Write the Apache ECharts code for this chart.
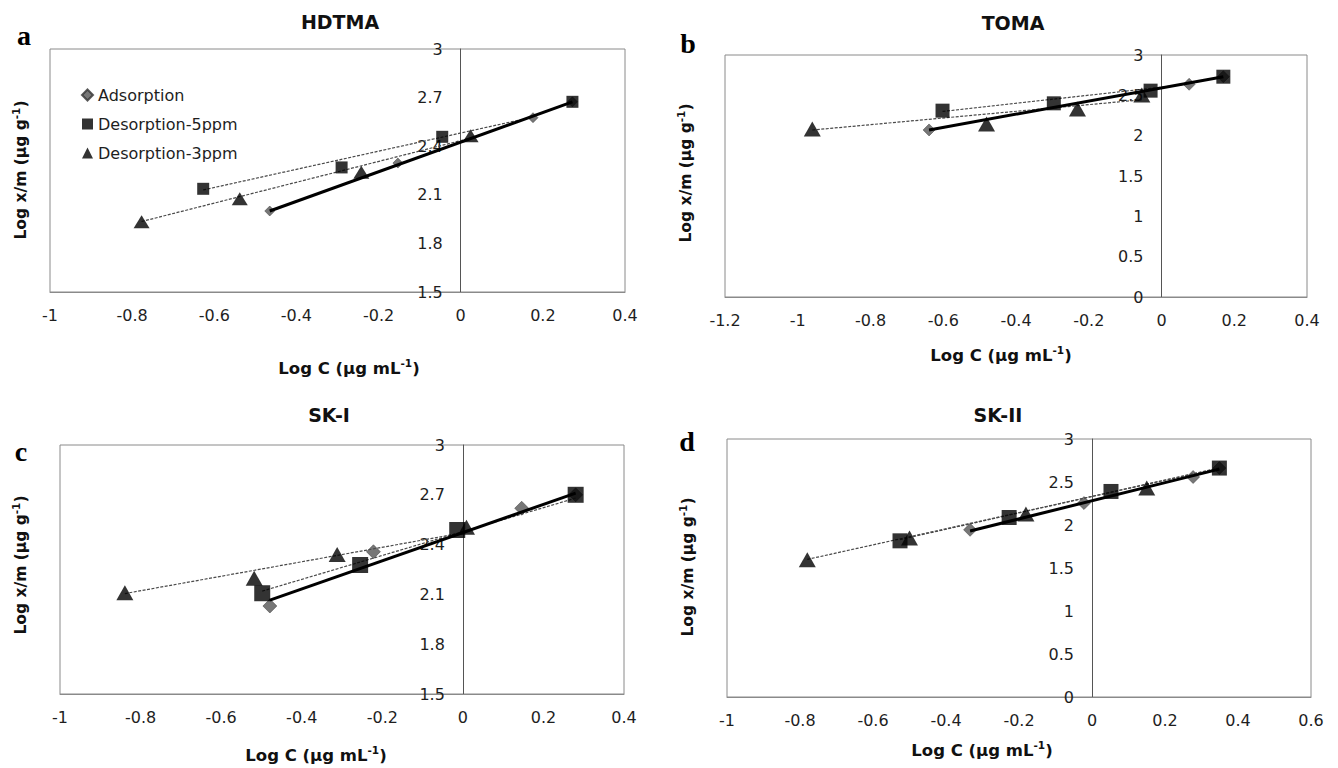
<!DOCTYPE html>
<html>
<head>
<meta charset="utf-8">
<title>Adsorption / desorption isotherms</title>
<script src="https://cdn.jsdelivr.net/npm/echarts@6/dist/echarts.min.js"></script>
<style>
  html, body { margin: 0; padding: 0; background: #fff; }
  #chart { width: 1338px; height: 768px; }
</style>
</head>
<body>
<div id="chart"></div>
<script>
// legend / series names
const seriesNames = ['Adsorption', 'Desorption-5ppm', 'Desorption-3ppm'];
const panelTitles = ['HDTMA', 'TOMA', 'SK-I', 'SK-II'];
const panelLetters = ['a', 'b', 'c', 'd'];

// tick labels
const xTicksAC = [-1, -0.8, -0.6, -0.4, -0.2, 0, 0.2, 0.4];
const xTicksB = [-1.2, -1, -0.8, -0.6, -0.4, -0.2, 0, 0.2, 0.4];
const xTicksD = [-1, -0.8, -0.6, -0.4, -0.2, 0, 0.2, 0.4, 0.6];
const yTicksAC = [1.5, 1.8, 2.1, 2.4, 2.7, 3];
const yTicksBD = [0, 0.5, 1, 1.5, 2, 2.5, 3];

// a: HDTMA  ([log C, log x/m])
const adsA = [[-0.465, 2.000], [-0.153, 2.296], [0.176, 2.576], [0.272, 2.674]];
const des5A = [[-0.627, 2.137], [-0.290, 2.269], [-0.045, 2.458], [0.272, 2.674]];
const des3A = [[-0.777, 1.933], [-0.538, 2.075], [-0.242, 2.239], [0.024, 2.464]];
// trendlines, end points
const adsFitA = [[-0.465, 2.000], [0.272, 2.674]];
const des5FitA = [[-0.627, 2.130], [0.176, 2.580]];
const des3FitA = [[-0.777, 1.935], [0.024, 2.450]];

// b: TOMA
const adsB = [[-0.639, 2.071], [0.076, 2.637], [0.170, 2.731]];
const des5B = [[-0.602, 2.310], [-0.296, 2.401], [-0.030, 2.558], [0.170, 2.731]];
const des3B = [[-0.960, 2.083], [-0.481, 2.145], [-0.231, 2.331], [-0.054, 2.504]];
const adsFitB = [[-0.639, 2.071], [0.170, 2.731]];
const des5FitB = [[-0.602, 2.300], [0.076, 2.640]];
const des3FitB = [[-0.960, 2.070], [-0.054, 2.445]];

// c: SK-I
const adsC = [[-0.479, 2.030], [-0.222, 2.357], [0.146, 2.619], [0.280, 2.700]];
const des5C = [[-0.498, 2.107], [-0.255, 2.277], [-0.014, 2.488], [0.280, 2.700]];
const des3C = [[-0.839, 2.110], [-0.518, 2.197], [-0.312, 2.341], [0.009, 2.504]];
const adsFitC = [[-0.479, 2.066], [0.280, 2.710]];
const des5FitC = [[-0.498, 2.120], [0.280, 2.680]];
const des3FitC = [[-0.839, 2.105], [0.009, 2.475]];

// d: SK-II
const adsD = [[-0.334, 1.944], [-0.022, 2.255], [0.277, 2.558], [0.349, 2.662]];
const des5D = [[-0.526, 1.816], [-0.227, 2.087], [0.052, 2.390], [0.349, 2.662]];
const des3D = [[-0.780, 1.595], [-0.500, 1.848], [-0.181, 2.127], [0.150, 2.430]];
const adsFitD = [[-0.334, 1.930], [0.349, 2.650]];
const des5FitD = [[-0.526, 1.830], [0.349, 2.665]];
const des3FitD = [[-0.780, 1.600], [0.349, 2.660]];

const FONT = '"DejaVu Sans", "Noto Sans", sans-serif';
const SERIF = '"Liberation Serif", "DejaVu Serif", serif';

// layout of the four panels (pixels)
const panels = [
  { grid: { left: 50, top: 49, width: 575, height: 243 }, xTicks: xTicksAC, yTicks: yTicksAC,
    ads: adsA, des5: des5A, des3: des3A, adsFit: adsFitA, des5Fit: des5FitA, des3Fit: des3FitA,
    sym: { d: 10, s: 12, t: [16, 13] }, title: [340, 22], letter: [24, 35], xName: [349, 368], yName: [21, 170] },
  { grid: { left: 725, top: 55, width: 582, height: 242 }, xTicks: xTicksB, yTicks: yTicksBD,
    ads: adsB, des5: des5B, des3: des3B, adsFit: adsFitB, des5Fit: des5FitB, des3Fit: des3FitB,
    sym: { d: 12, s: 14, t: [17, 15] }, title: [1013, 23], letter: [688, 43], xName: [1001, 355], yName: [686, 173] },
  { grid: { left: 60, top: 445, width: 564, height: 249 }, xTicks: xTicksAC, yTicks: yTicksAC,
    ads: adsC, des5: des5C, des3: des3C, adsFit: adsFitC, des5Fit: des5FitC, des3Fit: des3FitC,
    sym: { d: 14, s: 16, t: [17, 15] }, title: [329, 415], letter: [21, 451], xName: [316, 755], yName: [21, 565] },
  { grid: { left: 727, top: 439, width: 584, height: 258 }, xTicks: xTicksD, yTicks: yTicksBD,
    ads: adsD, des5: des5D, des3: des3D, adsFit: adsFitD, des5Fit: des5FitD, des3Fit: des3FitD,
    sym: { d: 13, s: 15, t: [17, 15] }, title: [998, 415], letter: [687, 441], xName: [982, 750], yName: [688, 567] }
];

const tickStep = t => +(t[1] - t[0]).toFixed(2);

const labelStyle = { fontFamily: FONT, fontSize: 16, color: '#1e1e1e' };

const grids = [], xAxes = [], yAxes = [], series = [], graphics = [];

const nameRich = size => ({
  b: { fontFamily: FONT, fontSize: size, fontWeight: 'bold', fill: '#111', lineHeight: 22 },
  s: { fontFamily: FONT, fontSize: 10.5, fontWeight: 'bold', fill: '#111', verticalAlign: 'top' }
});

panels.forEach((p, i) => {
  const xMin = p.xTicks[0], xMax = p.xTicks[p.xTicks.length - 1];
  grids.push(Object.assign({ show: true, borderColor: '#8a8a8a', borderWidth: 1, backgroundColor: '#fff', outerBoundsMode: 'none' }, p.grid));

  xAxes.push({
    type: 'value', gridIndex: i,
    min: xMin, max: xMax, interval: tickStep(p.xTicks),
    axisLine: { onZero: false, lineStyle: { color: '#8a8a8a' } },
    axisTick: { show: false }, splitLine: { show: false },
    axisLabel: Object.assign({ margin: 15 }, labelStyle)
  });
  // y axis sits on log C = 0: shift it right from the grid's left edge
  yAxes.push({
    type: 'value', gridIndex: i,
    min: p.yTicks[0], max: p.yTicks[p.yTicks.length - 1], interval: tickStep(p.yTicks),
    offset: -p.grid.width * (0 - xMin) / (xMax - xMin),
    axisLine: { show: true, onZero: false, lineStyle: { color: '#555', width: 1 } },
    axisTick: { show: false }, splitLine: { show: false },
    axisLabel: Object.assign({ margin: 18 }, labelStyle)
  });

  const base = { xAxisIndex: i, yAxisIndex: i, animation: false };
  const dotted = { color: '#4a4a4a', width: 1.2, type: [3, 1.5] };

  series.push(Object.assign({ name: 'Adsorption', type: 'scatter', data: p.ads, symbol: 'diamond',
    symbolSize: p.sym.d, itemStyle: { color: '#555', borderColor: '#333', borderWidth: 0.6 }, z: 2 }, base));
  series.push(Object.assign({ name: 'Desorption-5ppm fit', type: 'line', data: p.des5Fit, symbol: 'none',
    lineStyle: dotted, z: 3 }, base));
  series.push(Object.assign({ name: 'Desorption-3ppm fit', type: 'line', data: p.des3Fit, symbol: 'none',
    lineStyle: dotted, z: 3 }, base));
  series.push(Object.assign({ name: 'Adsorption fit', type: 'line', data: p.adsFit, symbol: 'none',
    lineStyle: { color: '#000', width: 3 }, z: 3 }, base));
  series.push(Object.assign({ name: 'Desorption-5ppm', type: 'scatter', data: p.des5, symbol: 'rect',
    symbolSize: p.sym.s, itemStyle: { color: '#000' }, z: 4 }, base));
  series.push(Object.assign({ name: 'Desorption-3ppm', type: 'scatter', data: p.des3, symbol: 'triangle',
    symbolSize: p.sym.t, itemStyle: { color: '#000' }, z: 4 }, base));

  // panel title
  graphics.push({ type: 'text', x: p.title[0], y: p.title[1], silent: true,
    style: { text: panelTitles[i], fontFamily: FONT, fontSize: 19, fontWeight: 'bold', fill: '#111',
      align: 'center', verticalAlign: 'middle' } });
  // panel letter
  graphics.push({ type: 'text', x: p.letter[0], y: p.letter[1], silent: true,
    style: { text: panelLetters[i], fontFamily: SERIF, fontSize: 28, fontWeight: 'bold', fill: '#000',
      align: 'center', verticalAlign: 'middle' } });
  // axis titles
  graphics.push({ type: 'text', x: p.xName[0], y: p.xName[1], silent: true,
    style: { text: '{b|Log C (µg mL}{s|-1}{b|)}', rich: nameRich(16.5), align: 'center', verticalAlign: 'middle' } });
  graphics.push({ type: 'text', x: p.yName[0], y: p.yName[1], rotation: Math.PI / 2, silent: true,
    style: { text: '{b|Log x/m (µg g}{s|-1}{b|)}', rich: nameRich(15.5), align: 'center', verticalAlign: 'middle' } });
});

const chart = echarts.init(document.getElementById('chart'), null, { renderer: 'svg' });
chart.setOption({
  animation: false,
  backgroundColor: '#fff',
  grid: grids,
  xAxis: xAxes,
  yAxis: yAxes,
  legend: {
    data: seriesNames,
    orient: 'vertical',
    left: 76, top: 81,
    itemWidth: 11, itemHeight: 11, itemGap: 11,
    textStyle: { fontFamily: FONT, fontSize: 16, color: '#1e1e1e', lineHeight: 18 },
    selectedMode: false
  },
  series: series,
  graphic: graphics
});
</script>
</body>
</html>
